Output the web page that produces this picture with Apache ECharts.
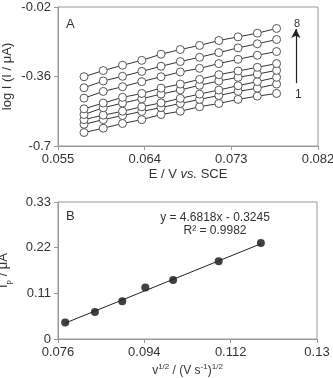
<!DOCTYPE html>
<html>
<head>
<meta charset="utf-8">
<script src="https://cdn.jsdelivr.net/npm/echarts@6/dist/echarts.min.js"></script>
<style>
  html, body { margin: 0; padding: 0; background: #fff; }
  #main { width: 333px; height: 378px; }
</style>
</head>
<body>
<div id="main"></div>
<script>
// panel A: potential (V vs SCE) and log I for the 8 scan rates
var potA = [0.0577, 0.0597, 0.0617, 0.0637, 0.0657, 0.0677, 0.0697, 0.0717, 0.0737, 0.0757, 0.0777];
var logI1 = [-0.634, -0.613, -0.590, -0.571, -0.546, -0.530, -0.508, -0.492, -0.472, -0.456, -0.443];
var logI2 = [-0.594, -0.571, -0.551, -0.531, -0.512, -0.492, -0.472, -0.453, -0.433, -0.417, -0.397];
var logI3 = [-0.571, -0.549, -0.530, -0.508, -0.489, -0.467, -0.446, -0.426, -0.405, -0.385, -0.364];
var logI4 = [-0.546, -0.513, -0.490, -0.469, -0.446, -0.426, -0.403, -0.382, -0.364, -0.348, -0.330];
var logI5 = [-0.518, -0.490, -0.462, -0.443, -0.417, -0.397, -0.374, -0.351, -0.333, -0.315, -0.297];
var logI6 = [-0.466, -0.433, -0.410, -0.385, -0.361, -0.338, -0.320, -0.297, -0.276, -0.256, -0.238];
var logI7 = [-0.415, -0.382, -0.359, -0.335, -0.310, -0.287, -0.266, -0.243, -0.220, -0.200, -0.179];
var logI8 = [-0.361, -0.331, -0.305, -0.281, -0.251, -0.228, -0.208, -0.184, -0.166, -0.148, -0.125];
var ticksAx = [0.055, 0.064, 0.073, 0.082];
var ticksAy = [-0.7, -0.36, -0.02];

// panel B: peak current vs square root of scan rate
var sqrtV = [0.0775, 0.0837, 0.0894, 0.0942, 0.1, 0.1095, 0.1183];
var ip = [0.040, 0.065, 0.091, 0.124, 0.142, 0.187, 0.231];
var ticksBx = [0.076, 0.094, 0.112, 0.13];
var ticksBy = [0, 0.11, 0.22, 0.33];
var slope = 4.6818, intercept = -0.3245;

var FONT = 'Liberation Sans';
var TXT = '#333';
var GRAY = '#999';

function zip(xs, ys) {
  return xs.map(function (x, i) { return [x, ys[i]]; });
}

var chart = echarts.init(document.getElementById('main'));

var curvesA = [logI1, logI2, logI3, logI4, logI5, logI6, logI7, logI8];
var seriesList = curvesA.map(function (arr, k) {
  return {
    type: 'line',
    xAxisIndex: 0, yAxisIndex: 0,
    data: zip(potA, arr),
    symbol: 'circle',
    symbolSize: 8,
    showAllSymbol: true,
    itemStyle: { color: '#fff', borderColor: '#555', borderWidth: 1 },
    lineStyle: { color: '#333', width: 1 },
    silent: true
  };
});

// arrow 1 -> 8
seriesList[0].markLine = {
  silent: true,
  symbol: ['none', 'arrow'],
  symbolSize: [7, 9],
  label: { show: false },
  lineStyle: { color: '#222', width: 1.2, type: 'solid' },
  data: [[{ coord: [0.0797, -0.392] }, { coord: [0.0797, -0.128] }]]
};

var fitLine = [sqrtV[0], sqrtV[sqrtV.length - 1]].map(function (x) {
  return [x, slope * x + intercept];
});

seriesList.push({
  type: 'line',
  xAxisIndex: 1, yAxisIndex: 1,
  data: fitLine,
  symbol: 'none',
  lineStyle: { color: '#222', width: 1 },
  silent: true
});
seriesList.push({
  type: 'scatter',
  xAxisIndex: 1, yAxisIndex: 1,
  data: zip(sqrtV, ip),
  symbol: 'circle',
  symbolSize: 8,
  itemStyle: { color: '#111' },
  silent: true
});

function xAxisCfg(idx, min, max, ticks, name, rich, gap) {
  return {
    type: 'value', gridIndex: idx, min: min, max: max,
    name: name, nameLocation: 'middle', nameGap: gap, nameMoveOverlap: false,
    nameTextStyle: { color: TXT, fontFamily: FONT, fontSize: 13, rich: rich },
    axisLine: { show: true, lineStyle: { color: GRAY } },
    axisTick: { show: true, length: 4, customValues: ticks, lineStyle: { color: GRAY } },
    axisLabel: { customValues: ticks, color: TXT, fontFamily: FONT, fontSize: 13, margin: 7 },
    splitLine: { show: false }
  };
}
function yAxisCfg(idx, min, max, ticks, name, rich, gap) {
  return {
    type: 'value', gridIndex: idx, min: min, max: max,
    name: name, nameLocation: 'middle', nameGap: gap, nameRotate: 90, nameMoveOverlap: false,
    nameTextStyle: { color: TXT, fontFamily: FONT, fontSize: 13, rich: rich },
    axisLine: { show: true, lineStyle: { color: GRAY } },
    axisTick: { show: true, length: 4, customValues: ticks, lineStyle: { color: GRAY } },
    axisLabel: { customValues: ticks, color: TXT, fontFamily: FONT, fontSize: 13, margin: 7 },
    splitLine: { show: false }
  };
}

var option = {
  animation: false,
  textStyle: { fontFamily: FONT },
  grid: [
    { left: 58, right: 15, top: 7, height: 139, show: true, borderColor: GRAY, borderWidth: 1,
      outerBoundsMode: 'none', containLabel: false },
    { left: 58, right: 16, top: 202, height: 137, show: true, borderColor: GRAY, borderWidth: 1,
      outerBoundsMode: 'none', containLabel: false }
  ],
  xAxis: [
    xAxisCfg(0, 0.055, 0.082, ticksAx, 'E / V {i|vs.} SCE',
      { i: { fontStyle: 'italic', fontSize: 13, color: TXT, fontFamily: FONT } }, 22),
    xAxisCfg(1, 0.076, 0.13, ticksBx, '{t|v}{s|1/2}{t| / (V s}{s|-1}{t|)}{s|1/2}',
      { t: { fontSize: 12, color: TXT, fontFamily: FONT, lineHeight: 14, verticalAlign: 'bottom' },
        s: { fontSize: 8, color: TXT, fontFamily: FONT, lineHeight: 14, verticalAlign: 'top' } }, 24)
  ],
  yAxis: [
    yAxisCfg(0, -0.7, -0.02, ticksAy, 'log I (I / μA)', {}, 44),
    yAxisCfg(1, 0, 0.33, ticksBy, '{t|I}{b|p}{t| / μA}',
      { t: { fontSize: 13, color: TXT, fontFamily: FONT, lineHeight: 16, verticalAlign: 'top' },
        b: { fontSize: 8, color: TXT, fontFamily: FONT, lineHeight: 16, verticalAlign: 'bottom' } }, 45)
  ],
  graphic: [
    { type: 'text', left: 66, top: 18, style: { text: 'A', fill: TXT, font: '13px ' + FONT } },
    { type: 'text', left: 66, top: 210, style: { text: 'B', fill: TXT, font: '13px ' + FONT } },
    { type: 'text', left: 294, top: 18, style: { text: '8', fill: TXT, font: '11px ' + FONT } },
    { type: 'text', left: 295, top: 89, style: { text: '1', fill: TXT, font: '12px ' + FONT } },
    { type: 'text', x: 215, y: 212, style: { text: 'y = 4.6818x - 0.3245', fill: TXT, font: '12px ' + FONT, align: 'center' } },
    { type: 'text', x: 215, y: 225, style: { text: 'R² = 0.9982', fill: TXT, font: '12px ' + FONT, align: 'center' } }
  ],
  series: seriesList
};

chart.setOption(option);
</script>
</body>
</html>
